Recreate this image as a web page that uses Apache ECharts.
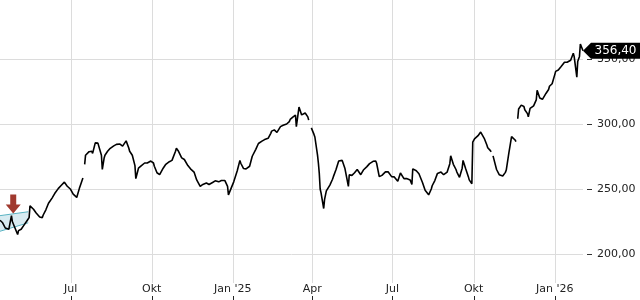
<!DOCTYPE html>
<html><head><meta charset="utf-8">
<script src="https://cdn.jsdelivr.net/npm/echarts@6/dist/echarts.min.js"></script>
<style>html,body{margin:0;padding:0;background:#fff}#c{width:640px;height:300px}</style>
</head><body><div id="c"></div>
<script>
const dates = ['2024-04-12','2024-04-15','2024-04-18','2024-04-22','2024-04-25','2024-04-29','2024-05-02','2024-05-06','2024-05-09','2024-05-13','2024-05-15','2024-05-16','2024-05-20','2024-05-23','2024-05-27','2024-05-30','2024-06-03','2024-06-06','2024-06-10','2024-06-13','2024-06-17','2024-06-20','2024-06-24','2024-06-27','2024-07-01','2024-07-04','2024-07-08','2024-07-11','2024-07-15','2024-07-16','2024-07-17','2024-07-18','2024-07-22','2024-07-25','2024-07-29','2024-08-01','2024-08-05','2024-08-06','2024-08-08','2024-08-12','2024-08-15','2024-08-19','2024-08-22','2024-08-26','2024-08-29','2024-09-02','2024-09-05','2024-09-09','2024-09-12','2024-09-13','2024-09-16','2024-09-19','2024-09-23','2024-09-26','2024-09-30','2024-10-03','2024-10-07','2024-10-10','2024-10-14','2024-10-17','2024-10-21','2024-10-24','2024-10-28','2024-10-29','2024-10-31','2024-11-04','2024-11-07','2024-11-11','2024-11-14','2024-11-18','2024-11-21','2024-11-25','2024-11-28','2024-12-02','2024-12-05','2024-12-09','2024-12-12','2024-12-16','2024-12-19','2024-12-23','2024-12-26','2024-12-27','2024-12-30','2025-01-02','2025-01-06','2025-01-09','2025-01-13','2025-01-16','2025-01-20','2025-01-23','2025-01-27','2025-01-30','2025-02-03','2025-02-06','2025-02-10','2025-02-13','2025-02-17','2025-02-20','2025-02-24','2025-02-27','2025-03-03','2025-03-06','2025-03-10','2025-03-13','2025-03-14','2025-03-17','2025-03-20','2025-03-24','2025-03-27','2025-03-28','2025-03-29','2025-03-31','2025-04-03','2025-04-04','2025-04-07','2025-04-08','2025-04-09','2025-04-10','2025-04-11','2025-04-14','2025-04-15','2025-04-17','2025-04-21','2025-04-24','2025-04-28','2025-05-01','2025-05-05','2025-05-08','2025-05-12','2025-05-13','2025-05-15','2025-05-19','2025-05-22','2025-05-26','2025-05-29','2025-06-02','2025-06-05','2025-06-09','2025-06-12','2025-06-16','2025-06-19','2025-06-23','2025-06-26','2025-06-30','2025-07-03','2025-07-07','2025-07-10','2025-07-14','2025-07-17','2025-07-21','2025-07-23','2025-07-24','2025-07-25','2025-07-28','2025-07-31','2025-08-04','2025-08-07','2025-08-11','2025-08-14','2025-08-18','2025-08-21','2025-08-25','2025-08-28','2025-09-01','2025-09-04','2025-09-05','2025-09-08','2025-09-11','2025-09-15','2025-09-18','2025-09-19','2025-09-22','2025-09-25','2025-09-29','2025-09-30','2025-10-02','2025-10-06','2025-10-09','2025-10-13','2025-10-16','2025-10-20','2025-10-21','2025-10-22','2025-10-23','2025-10-27','2025-10-30','2025-11-03','2025-11-06','2025-11-07','2025-11-10','2025-11-11','2025-11-13','2025-11-14','2025-11-17','2025-11-18','2025-11-19','2025-11-20','2025-11-21','2025-11-24','2025-11-27','2025-12-01','2025-12-02','2025-12-04','2025-12-08','2025-12-11','2025-12-12','2025-12-15','2025-12-18','2025-12-22','2025-12-25','2025-12-29','2026-01-01','2026-01-05','2026-01-08','2026-01-12','2026-01-15','2026-01-19','2026-01-22','2026-01-23','2026-01-26','2026-01-27','2026-01-29','2026-01-30','2026-02-02'];
const prices = [226,224,220,219,229.5,220,215,219,222,226,228,237,234.4,231.5,228.5,228,234,239,243,246.5,250.3,252.5,255.3,252.3,249.8,246,243.5,250.5,258.5,null,269,276,278.7,279,285.5,285.3,276,265,273.6,279,281.3,283.2,284.3,284.6,283,287,281.5,276,268,258,266,267.8,270,270,271.5,270,262.5,261,266,269,271,272,279,281.3,279.5,274,272.7,268,265.5,263,257,252,253.5,254.6,253.5,255,256.3,255.5,256.5,256.5,252,245.5,250.5,255.5,264,272,265.8,265.5,267.5,275.2,280.5,285,286.8,288,289,292.8,295.5,293.5,298,299,300,301.8,305.3,306.9,298,313,307,308.5,305.5,303,null,297,292,290,276,269.8,262,250,247,235,242,248.5,253,257.5,265,271.5,272,266,252,261,261,262.5,265,261,264.6,267.2,269.5,271.3,271.5,259.5,260.5,263.2,263.2,259.5,259.3,256,262.3,258,258,257,253.5,265.5,267,264,261.7,255,249,245.5,250,256.5,262,263,261,263,269.5,275.5,269,265,259,266,272,265.5,259.5,254,286,288.5,291,293.8,289,283.8,279.5,278.7,null,275.5,265,261,260,262.8,264.6,278,282,290.3,291.5,287.7,286.4,null,304,311.5,314.5,313.5,308,305.6,312,314,318.5,326,320,319,323.5,326.5,331,338,341.5,344,347.5,347.5,349,354.4,351.8,336,348,352,361.5,356.4];
// additional Friday readings
const fridayDates = ['2024-04-19','2024-04-26','2024-05-03','2024-05-10','2024-05-24','2024-05-31','2024-06-07','2024-06-14','2024-06-21','2024-06-28','2024-07-05','2024-07-12','2024-07-26','2024-08-02','2024-08-09','2024-08-16','2024-08-23','2024-08-30','2024-09-06','2024-09-20','2024-09-27','2024-10-04','2024-10-11','2024-10-18','2024-10-25','2024-11-01','2024-11-08','2024-11-15','2024-11-22','2024-11-29','2024-12-06','2024-12-13','2024-12-20','2025-01-03','2025-01-10','2025-01-17','2025-01-24','2025-01-31','2025-02-07','2025-02-14','2025-02-21','2025-02-28','2025-03-07','2025-03-21','2025-04-25','2025-05-02','2025-05-09','2025-05-16','2025-05-23','2025-05-30','2025-06-06','2025-06-13','2025-06-20','2025-06-27','2025-07-04','2025-07-11','2025-07-18','2025-08-01','2025-08-08','2025-08-15','2025-08-22','2025-08-29','2025-09-12','2025-09-26','2025-10-10','2025-10-17','2025-10-31','2025-11-28','2025-12-05','2025-12-19','2025-12-26','2026-01-02','2026-01-09','2026-01-16'];
const fridayPrices = [221.5,225,218,222.8,231,230,239.5,247,253,251.2,245,252.5,277.4,285.6,276,282,284.4,284,279,268.2,271.3,267.5,262.5,269.8,273,278.5,272.2,264.7,255.5,253.6,253.5,256.7,256.8,257,269.8,266.8,276.2,286.5,287.5,294.5,294,298.8,303.5,308.5,259.5,273,265,260.5,263.5,265.3,270,269.8,259.8,262,258.2,260.8,257,260.8,248,252.5,263.3,262.5,263,257,292.8,281.8,260.5,311,313.5,320.5,329,340.5,345.4,346];
const tickDates = ['2024-07-01','2024-10-01','2025-01-01','2025-04-01','2025-07-01','2025-10-01','2026-01-01'];
const tickLabels = ['Jul','Okt',"Jan '25",'Apr','Jul','Okt',"Jan '26"];
const bandDates = ['2024-04-12','2024-05-14'];
const bandUpper = [229.5,232.5];
const bandLower = [217.5,224];
const arrowDate = '2024-04-27';
const arrowValue = 238.5;
const lastValue = 356.4;

const chart = echarts.init(document.getElementById('c'));
const ts = s => echarts.number.parseDate(s).getTime();
const tickTs = tickDates.map(ts);
const FONT = 'DejaVu Sans';
const lineData = dates.map((d, i) => [ts(d), prices[i]])
  .concat(fridayDates.map((d, i) => [ts(d), fridayPrices[i]]))
  .sort((a, b) => a[0] - b[0]);

chart.setOption({
  animation: false,
  grid: { left: 0, right: 57, top: -6, bottom: -19, outerBoundsMode: 'none', containLabel: false },
  xAxis: {
    type: 'value', min: ts('2024-04-12'), max: ts('2026-02-02'),
    axisLine: { show: false },
    splitLine: { show: false },
    axisTick: { show: false },
    axisLabel: { inside: true, margin: 24, customValues: tickTs, color: '#222', fontFamily: FONT, fontSize: 11,
      formatter: v => { const i = tickTs.indexOf(v); return i >= 0 ? tickLabels[i] : ''; } }
  },
  yAxis: {
    type: 'value', position: 'right', min: 150, max: 400, interval: 50, offset: 4,
    axisLine: { show: false },
    axisTick: { show: true, length: 5, lineStyle: { color: '#333' } },
    axisLabel: { margin: 10, color: '#222', fontFamily: FONT, fontSize: 11,
      formatter: v => v.toFixed(2).replace('.', ',') },
    splitLine: { show: true, lineStyle: { color: '#dcdcdc', width: 1 } }
  },
  series: [
    { type: 'custom', z: 0, silent: true, clip: false,
      data: tickTs,
      renderItem: (params, api) => {
        const x = Math.round(api.coord([api.value(0), 300])[0]) + 0.5;
        return { type: 'group', children: [
          { type: 'line', shape: { x1: x, y1: 0, x2: x, y2: 283 }, style: { stroke: '#dcdcdc', lineWidth: 1 } },
          { type: 'line', shape: { x1: x, y1: 296, x2: x, y2: 300 }, style: { stroke: '#222', lineWidth: 1 } }
        ]};
      } },
    { type: 'custom', z: 1, silent: true,
      data: [0],
      renderItem: (params, api) => {
        const u0 = api.coord([ts(bandDates[0]), bandUpper[0]]), u1 = api.coord([ts(bandDates[1]), bandUpper[1]]);
        const l0 = api.coord([ts(bandDates[0]), bandLower[0]]), l1 = api.coord([ts(bandDates[1]), bandLower[1]]);
        return { type: 'group', children: [
          { type: 'polygon', shape: { points: [u0, u1, l1, l0] }, style: { fill: 'rgba(190,222,232,0.6)' } },
          { type: 'line', shape: { x1: u0[0], y1: u0[1], x2: u1[0], y2: u1[1] }, style: { stroke: '#5ab3c2', lineWidth: 1 } },
          { type: 'line', shape: { x1: l0[0], y1: l0[1], x2: l1[0], y2: l1[1] }, style: { stroke: '#5ab3c2', lineWidth: 1 } }
        ]};
      } },
    { type: 'line', z: 3, showSymbol: false, connectNulls: false,
      data: lineData,
      lineStyle: { color: '#000', width: 1.6 },
      markPoint: { silent: true, data: [
        { coord: [ts(arrowDate), arrowValue], symbol: 'path://M4.5,0 L10.5,0 L10.5,10 L15,10 L7.5,19 L0,10 L4.5,10 Z', symbolSize: [15, 19],
          itemStyle: { color: '#a0392e' }, label: { show: false } },
        { coord: [ts(dates[dates.length - 1]), lastValue], symbol: 'path://M0,8 L8,0 L57,0 L57,16 L8,16 Z', symbolSize: [57, 16],
          symbolOffset: [28.5, 0], itemStyle: { color: '#000' },
          label: { show: true, position: 'inside', offset: [4, 0], color: '#fff', fontFamily: FONT, fontSize: 12,
            formatter: () => lastValue.toFixed(2).replace('.', ',') } }
      ] } }
  ]
});
</script></body></html>
